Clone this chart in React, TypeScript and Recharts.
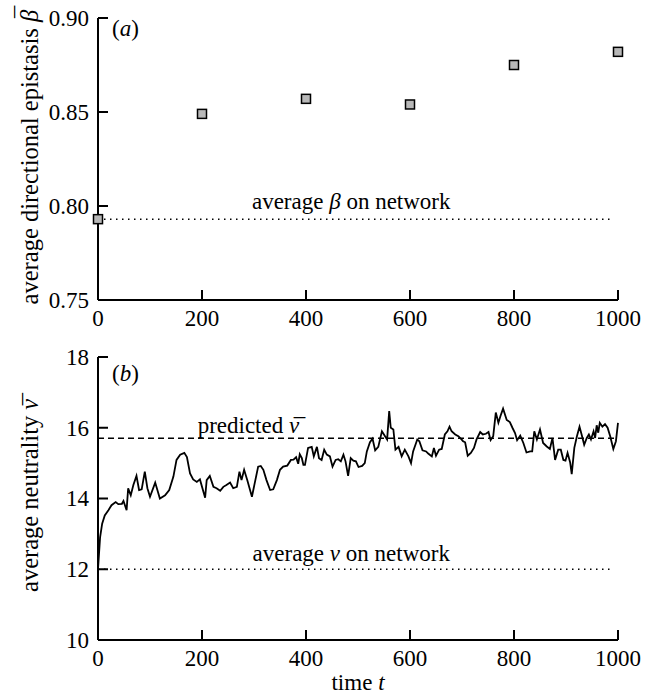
import {
  ComposedChart,
  Label,
  Line,
  ReferenceDot,
  ReferenceLine,
  Scatter,
  XAxis,
  YAxis,
} from "recharts";

const FONT = "'Liberation Serif', 'DejaVu Serif', serif";
const FS = 23;
const FS_TITLE = 24.5;
const txt = { fontFamily: FONT, fontSize: FS, fill: "#000" };

// panel (a): average directional epistasis sampled every 200 steps
const sampleTimes = [0, 200, 400, 600, 800, 1000];
const epistasis = [0.793, 0.849, 0.857, 0.854, 0.875, 0.882];
const networkBeta = 0.793;
const betaTicks = [0.75, 0.8, 0.85, 0.9];

// panel (b): average neutrality over time
const traceTime = [
  0, 4, 8, 13, 20, 26, 34, 39, 46, 49, 55, 58, 63, 68, 74, 79, 84, 90, 95, 100,
  110, 119, 129, 137, 145, 151, 158, 166, 171, 177, 183, 190, 196, 206, 209, 215,
  222, 228, 235, 241, 247, 254, 260, 267, 272, 276, 281, 287, 296, 304, 308, 313,
  318, 324, 331, 337, 344, 350, 356, 364, 371, 376, 381, 385, 388, 392, 395, 398,
  404, 411, 415, 421, 425, 430, 435, 440, 446, 451, 457, 462, 467, 472, 476, 481,
  486, 491, 496, 501, 508, 513, 517, 523, 528, 533, 539, 546, 552, 556, 560, 563,
  568, 572, 578, 584, 590, 597, 602, 606, 614, 618, 624, 631, 635, 642, 646, 650,
  656, 661, 667, 672, 676, 680, 687, 693, 699, 702, 706, 711, 717, 723, 728, 735,
  740, 746, 751, 755, 760, 765, 770, 774, 779, 786, 792, 797, 802, 806, 812, 818,
  824, 831, 835, 839, 844, 850, 856, 863, 869, 874, 879, 885, 890, 895, 899, 903,
  908, 911, 916, 921, 926, 930, 935, 940, 944, 948, 953, 956, 959, 962, 965, 970,
  975, 980, 985, 991, 996, 1000,
];
const traceNu = [
  12.0, 12.9, 13.29, 13.52, 13.67, 13.81, 13.9, 13.84, 13.85, 13.93, 13.67, 14.29,
  14.09, 14.38, 14.64, 14.24, 14.26, 14.76, 14.29, 14.05, 14.45, 14.0, 14.09, 14.24,
  14.62, 15.09, 15.24, 15.29, 15.17, 14.71, 14.54, 14.47, 14.54, 14.02, 14.52, 14.64,
  14.33, 14.29, 14.22, 14.33, 14.38, 14.45, 14.29, 14.33, 14.76, 14.52, 14.81, 14.52,
  14.05, 14.62, 14.9, 14.92, 14.81, 14.52, 14.24, 14.26, 14.52, 14.81, 14.9, 14.93,
  15.09, 15.1, 15.17, 14.98, 15.25, 15.14, 14.95, 14.95, 15.43, 15.46, 15.19, 15.46,
  15.14, 15.09, 15.38, 15.24, 15.19, 14.9, 15.09, 15.11, 15.05, 15.24, 15.05, 14.64,
  15.14, 15.07, 15.05, 14.89, 14.92, 15.0, 15.33, 15.59, 15.69, 15.36, 15.46, 15.9,
  15.76, 15.67, 16.47, 16.0, 15.95, 15.38, 15.46, 15.19, 15.38, 15.19, 15.0, 15.33,
  15.67, 15.62, 15.36, 15.33, 15.27, 15.19, 15.43, 15.21, 15.38, 15.4, 15.81, 15.9,
  16.03, 15.9, 15.81, 15.76, 15.67, 15.62, 15.59, 15.21, 15.29, 15.43, 15.67, 15.88,
  15.81, 15.83, 15.88, 15.65, 15.76, 16.43, 16.14, 16.33, 16.54, 16.22, 16.16, 16.0,
  15.85, 15.65, 15.78, 15.57, 15.3, 15.33, 15.33, 15.9, 15.67, 15.95, 15.57, 15.47,
  15.4, 15.71, 15.09, 15.38, 15.38, 15.09, 15.07, 15.29, 15.02, 14.69, 15.43, 15.76,
  16.03, 15.81, 15.52, 15.71, 15.81, 15.67, 15.9, 15.71, 16.07, 15.86, 16.14, 16.03,
  16.1, 16.0, 15.76, 15.4, 15.62, 16.14,
];
const predictedNu = 15.7;
const networkNu = 12;
const nuTicks = [10, 12, 14, 16, 18];

const timeTicks = [0, 200, 400, 600, 800, 1000];
const dottedEnd = 990;

const epistasisRows = sampleTimes.map((t, i) => ({ t, beta: epistasis[i] }));
const traceRows = traceTime.map((t, i) => ({ t, nu: traceNu[i] }));

const TICK_LEN = 10;

function BottomTick(props: any) {
  const { x, y, payload } = props;
  return (
    <g>
      <line x1={x} x2={x} y1={y} y2={y - TICK_LEN} stroke="#000" strokeWidth={2} />
      <text x={x} y={y + 26} textAnchor="middle" style={txt}>
        {payload.value}
      </text>
    </g>
  );
}

function leftTick(fmt: (v: number) => string) {
  return (props: any) => {
    const { x, y, payload } = props;
    return (
      <g>
        <line x1={x} x2={x + TICK_LEN} y1={y} y2={y} stroke="#000" strokeWidth={2} />
        <text x={x - 9} y={y + 7.8} textAnchor="end" style={txt}>
          {fmt(payload.value)}
        </text>
      </g>
    );
  };
}

function Square(props: any) {
  const { cx, cy } = props;
  return (
    <rect x={cx - 4.5} y={cy - 4.5} width={9} height={9} fill="#b8b8b8" stroke="#000" strokeWidth={1.5} />
  );
}

// italic symbol with a macron drawn over it
function barred(s: string, dx: number, dy: number) {
  return (
    <>
      <tspan fontStyle="italic">{s}</tspan>
      <tspan dx={dx} dy={dy}>
        ¯
      </tspan>
    </>
  );
}

function textAt(node: React.ReactNode, anchor: "start" | "middle" = "middle") {
  return (p: any) => (
    <text x={p.viewBox.x} y={p.viewBox.y} textAnchor={anchor} style={txt}>
      {node}
    </text>
  );
}

function yTitle(node: React.ReactNode, shift = 0) {
  return (p: any) => {
    const vb = p.viewBox;
    const cy = vb.y + vb.height / 2 + shift;
    return (
      <text
        transform={`translate(${vb.x + 38},${cy}) rotate(-90)`}
        textAnchor="middle"
        style={{ ...txt, fontSize: FS_TITLE }}
      >
        {node}
      </text>
    );
  };
}

const axisLine = { stroke: "#000", strokeWidth: 2 };

export default function App() {
  return (
    <div style={{ position: "absolute", left: 0, top: 0, width: 647, height: 695, background: "#fff", overflow: "hidden" }}>
      <div style={{ position: "absolute", left: 0, top: 0 }}>
        <ComposedChart
          width={647}
          height={340}
          data={epistasisRows}
          margin={{ top: 18, right: 29, bottom: 0, left: 0 }}
        >
          <XAxis
            dataKey="t"
            type="number"
            domain={[0, 1000]}
            ticks={timeTicks}
            height={40}
            axisLine={axisLine}
            tickLine={false}
            tickSize={0}
            tickMargin={0}
            tick={<BottomTick />}
          />
          <YAxis
            type="number"
            domain={[0.75, 0.9]}
            ticks={betaTicks}
            width={98}
            axisLine={axisLine}
            tickLine={false}
            tickSize={0}
            tickMargin={0}
            tick={leftTick((v) => v.toFixed(2))}
          >
            <Label
              content={yTitle(
                <>
                  average directional epistasis {barred("β", -8, -5)}
                </>,
                -4
              )}
            />
          </YAxis>
          <ReferenceLine
            segment={[
              { x: 0, y: networkBeta },
              { x: dottedEnd, y: networkBeta },
            ]}
            stroke="#000"
            strokeWidth={1.5}
            strokeDasharray="1.5 4.5"
          />
          <ReferenceDot
            x={487}
            y={0.7985}
            r={0}
            fill="none"
            stroke="none"
            label={{
              content: textAt(
                <>
                  average <tspan fontStyle="italic">β</tspan> on network
                </>
              ),
            }}
          />
          <ReferenceDot
            x={27}
            y={0.8905}
            r={0}
            fill="none"
            stroke="none"
            label={{
              content: textAt(
                <>
                  (<tspan fontStyle="italic">a</tspan>)
                </>,
                "start"
              ),
            }}
          />
          <Scatter dataKey="beta" shape={<Square />} isAnimationActive={false} />
        </ComposedChart>
      </div>
      <div style={{ position: "absolute", left: 0, top: 340 }}>
        <ComposedChart
          width={647}
          height={355}
          data={traceRows}
          margin={{ top: 17, right: 29, bottom: 0, left: 0 }}
        >
          <XAxis
            dataKey="t"
            type="number"
            domain={[0, 1000]}
            ticks={timeTicks}
            height={55}
            axisLine={axisLine}
            tickLine={false}
            tickSize={0}
            tickMargin={0}
            tick={<BottomTick />}
          >
            <Label
              content={(p: any) => (
                <text
                  x={p.viewBox.x + p.viewBox.width / 2}
                  y={p.viewBox.y + 50}
                  textAnchor="middle"
                  style={txt}
                >
                  time <tspan fontStyle="italic">t</tspan>
                </text>
              )}
            />
          </XAxis>
          <YAxis
            type="number"
            domain={[10, 18]}
            ticks={nuTicks}
            width={98}
            axisLine={axisLine}
            tickLine={false}
            tickSize={0}
            tickMargin={0}
            tick={leftTick((v) => String(v))}
          >
            <Label
              content={yTitle(
                <>
                  average neutrality {barred("ν", -6.5, 3)}
                </>,
                -6
              )}
            />
          </YAxis>
          <ReferenceLine
            y={predictedNu}
            stroke="#000"
            strokeWidth={1.5}
            strokeDasharray="6 4"
          />
          <ReferenceLine
            segment={[
              { x: 0, y: networkNu },
              { x: dottedEnd, y: networkNu },
            ]}
            stroke="#000"
            strokeWidth={1.5}
            strokeDasharray="1.5 4.5"
          />
          <ReferenceDot
            x={295}
            y={15.85}
            r={0}
            fill="none"
            stroke="none"
            label={{
              content: textAt(
                <>
                  predicted {barred("ν", -5.5, 2)}
                </>
              ),
            }}
          />
          <ReferenceDot
            x={487}
            y={12.22}
            r={0}
            fill="none"
            stroke="none"
            label={{
              content: textAt(
                <>
                  average <tspan fontStyle="italic">ν</tspan> on network
                </>
              ),
            }}
          />
          <ReferenceDot
            x={27}
            y={17.32}
            r={0}
            fill="none"
            stroke="none"
            label={{
              content: textAt(
                <>
                  (<tspan fontStyle="italic">b</tspan>)
                </>,
                "start"
              ),
            }}
          />
          <Line
            dataKey="nu"
            type="linear"
            stroke="#000"
            strokeWidth={1.8}
            dot={false}
            isAnimationActive={false}
          />
        </ComposedChart>
      </div>
    </div>
  );
}
